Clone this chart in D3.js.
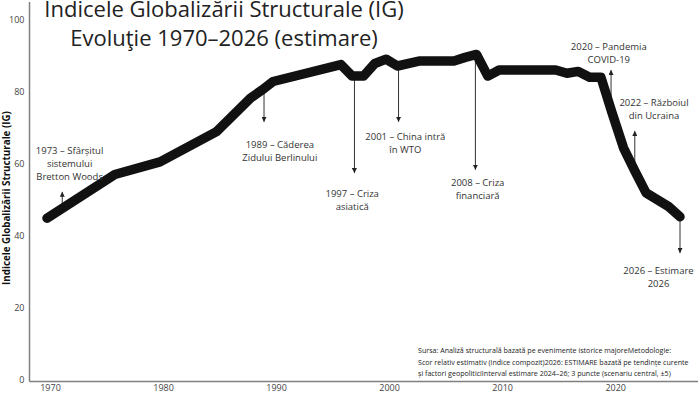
<!DOCTYPE html>
<html>
<head>
<meta charset="utf-8">
<script src="https://cdn.jsdelivr.net/npm/d3@7"></script>
<style>
  body { margin: 0; background: #fff; }
  svg { display: block; font-family: "Open Sans", sans-serif; }
</style>
</head>
<body>
<svg id="chart" width="700" height="393"></svg>
<script>
// data
const years  = [1970, 1976, 1980, 1985, 1988, 1989, 1990, 1996, 1997, 1998, 1999, 2000, 2001, 2003, 2006, 2007, 2008, 2009, 2010, 2015, 2016, 2017, 2018, 2019, 2020, 2021, 2022, 2023, 2025, 2026];
const values = [44.9, 57.0, 60.5, 68.9, 78.2, 80.4, 82.8, 87.5, 84.3, 84.3, 87.8, 89.0, 87.1, 88.5, 88.5, 89.5, 90.3, 84.3, 86.0, 86.0, 85.1, 85.6, 84.0, 84.0, 74.0, 64.4, 58.0, 51.9, 48.1, 45.3];

const xTicks = [1970, 1980, 1990, 2000, 2010, 2020];
const yTicks = [0, 20, 40, 60, 80, 100];

// events: year of the arrow, where the arrow head ends, label anchor (data units)
const eventLabels = [
  ["1973 – Sfârșitul", "sistemului", "Bretton Woods"],
  ["1989 – Căderea", "Zidului Berlinului"],
  ["1997 – Criza", "asiatică"],
  ["2001 – China intră", "în WTO"],
  ["2008 – Criza", "financiară"],
  ["2020 – Pandemia", "COVID-19"],
  ["2022 – Războiul", "din Ucraina"],
  ["2026 – Estimare", "2026"]
];
const eventArrowYear = [1971.35, 1989.2, 1997.2, 2001.1, 2007.9, 2019.9, 2022.0, 2026.0];
const eventTipValue  = [52.2, 71.6, 57.4, 71.6, 58.3, 86.0, 69.1, 35.2];
const eventLabelYear = [1972.0, 1990.6, 1997.0, 2001.7, 2008.1, 2019.7, 2023.7, 2024.1];
const eventLabelVal  = [63.6, 65.2, 51.8, 67.5, 54.8, 92.5, 76.9, 30.3];

const titleLines = ["Indicele Globalizării Structurale (IG)", "Evoluţie 1970–2026 (estimare)"];
const yLabel = "Indicele Globalizării Structurale (IG)";
const sourceLines = [
  "Sursa: Analiză structurală bazată pe evenimente istorice majoreMetodologie:",
  "Scor relativ estimativ (indice compozit)2026: ESTIMARE bazată pe tendințe curente",
  "și factori geopoliticiInterval estimare 2024–26; 3 puncte (scenariu central, ±5)"
];

const svg = d3.select("#chart");
const axisX = 29.5, axisY = 381.5;

const x = d3.scaleLinear().domain([1970, 2026]).range([47, 680]);
const y = d3.scaleLinear().domain([0, 100]).range([380, 19.5]);

// axis lines
svg.append("line")
  .attr("x1", axisX).attr("x2", axisX).attr("y1", 2).attr("y2", axisY)
  .attr("stroke", "#808080").attr("stroke-width", 1.5);
svg.append("line")
  .attr("x1", axisX).attr("x2", 698).attr("y1", axisY).attr("y2", axisY)
  .attr("stroke", "#808080").attr("stroke-width", 1.5);

const gx = svg.append("g")
  .attr("transform", `translate(0,${axisY})`)
  .call(d3.axisBottom(x).tickValues(xTicks).tickFormat(d3.format("d")).tickSize(0).tickPadding(3));
gx.select(".domain").remove();
gx.selectAll("text").attr("font-size", 9).attr("fill", "#444").attr("font-family", "Open Sans").attr("dx", 3);

const gy = svg.append("g")
  .attr("transform", `translate(${axisX},0)`)
  .call(d3.axisLeft(y).tickValues(yTicks).tickSize(0).tickPadding(5));
gy.select(".domain").remove();
gy.selectAll("text").attr("font-size", 9).attr("fill", "#444").attr("font-family", "Open Sans");

// y axis title
svg.append("text")
  .attr("transform", "translate(9.5,198) rotate(-90)")
  .attr("text-anchor", "middle")
  .attr("font-size", 9.8).attr("font-weight", "bold").attr("fill", "#111")
  .text(yLabel);

// title
svg.append("g").selectAll("text")
  .data(titleLines)
  .join("text")
  .attr("x", 224)
  .attr("y", (d, i) => 17 + i * 28.5)
  .attr("text-anchor", "middle")
  .attr("font-size", 22).attr("fill", "#222")
  .text(d => d);

// interpolate the series at a given year
const series = years.map((yr, i) => ({yr, v: values[i]}));
function valueAt(yr) {
  const i = d3.bisector(d => d.yr).left(series, yr);
  if (i <= 0) return series[0].v;
  if (i >= series.length) return series[series.length - 1].v;
  const a = series[i - 1], b = series[i];
  return a.v + (b.v - a.v) * (yr - a.yr) / (b.yr - a.yr);
}

// arrow marker
svg.append("defs").append("marker")
  .attr("id", "arrow")
  .attr("viewBox", "0 0 10 10")
  .attr("refX", 10).attr("refY", 5)
  .attr("markerWidth", 5).attr("markerHeight", 5)
  .attr("markerUnits", "userSpaceOnUse")
  .attr("orient", "auto")
  .append("path").attr("d", "M0,0L10,5L0,10Z").attr("fill", "#222");

const events = eventLabels.map((lines, i) => ({
  lines,
  ax: eventArrowYear[i],
  tip: eventTipValue[i],
  lx: eventLabelYear[i],
  ly: eventLabelVal[i]
}));

svg.append("g").selectAll("line")
  .data(events)
  .join("line")
  .attr("x1", d => x(d.ax)).attr("x2", d => x(d.ax))
  .attr("y1", d => y(valueAt(d.ax)))
  .attr("y2", d => y(d.tip))
  .attr("stroke", "#333").attr("stroke-width", 1)
  .attr("marker-end", "url(#arrow)");

// main line
svg.append("path")
  .datum(series)
  .attr("fill", "none")
  .attr("stroke", "#111")
  .attr("stroke-width", 9.5)
  .attr("stroke-linejoin", "round")
  .attr("stroke-linecap", "round")
  .attr("d", d3.line().x(d => x(d.yr)).y(d => y(d.v)));

// event labels
const lab = svg.append("g").selectAll("text")
  .data(events)
  .join("text")
  .attr("text-anchor", "middle")
  .attr("font-size", 9.5).attr("fill", "#333")
  .attr("x", d => x(d.lx))
  .attr("y", d => y(d.ly));
lab.selectAll("tspan")
  .data(d => d.lines.map(t => ({t, cx: x(d.lx)})))
  .join("tspan")
  .attr("x", d => d.cx)
  .attr("dy", (d, i) => i === 0 ? "0.35em" : 13)
  .text(d => d.t);

// source note
svg.append("g").selectAll("text")
  .data(sourceLines)
  .join("text")
  .attr("x", 418)
  .attr("y", (d, i) => 353 + i * 11.5)
  .attr("font-size", 7.1).attr("fill", "#222")
  .text(d => d);
</script>
</body>
</html>
